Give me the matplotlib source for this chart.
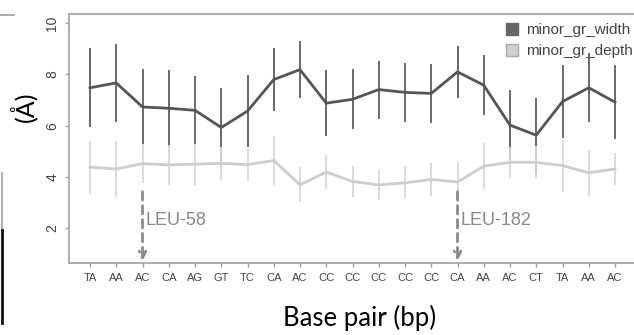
import numpy as np
import matplotlib
matplotlib.use("Agg")
import matplotlib.pyplot as plt
from matplotlib.lines import Line2D

# base pair labels along the x axis
pairs = ["TA", "AA", "AC", "CA", "AG", "GT", "TC", "CA", "AC", "CC", "CC",
         "CC", "CC", "CC", "CA", "AA", "AC", "CT", "TA", "AA", "AC"]

# minor groove width (mean, sd)
width_mean = [7.48, 7.67, 6.73, 6.68, 6.60, 5.93, 6.57, 7.80, 8.19, 6.88, 7.03,
              7.41, 7.30, 7.26, 8.10, 7.58, 6.02, 5.63, 6.94, 7.48, 6.92]
width_sd = [1.55, 1.53, 1.50, 1.50, 1.35, 1.54, 1.39, 1.23, 1.12, 1.30, 1.17,
            1.13, 1.16, 1.16, 1.02, 1.18, 1.37, 1.46, 1.43, 1.34, 1.44]

# minor groove depth (mean, sd)
depth_mean = [4.38, 4.31, 4.52, 4.47, 4.50, 4.53, 4.48, 4.64, 3.69, 4.19, 3.82,
              3.69, 3.77, 3.90, 3.80, 4.42, 4.57, 4.57, 4.44, 4.16, 4.31]
depth_sd = [1.03, 1.08, 0.75, 0.78, 0.80, 0.64, 0.65, 0.95, 0.68, 0.65, 0.60,
            0.61, 0.65, 0.65, 0.77, 0.90, 0.60, 0.63, 1.02, 0.90, 0.62]

# residue markers: (position index 1-based, label)
markers = [(3, "LEU-58"), (15, "LEU-182")]

W, H = 634, 335
fig = plt.figure(figsize=(W / 100, H / 100), dpi=100)
ax = fig.add_axes([69 / W, (H - 263) / H, (636 - 69) / W, (263 - 14) / H])

x = np.arange(1, len(pairs) + 1)

ax.errorbar(x, width_mean, yerr=width_sd, color="#555555", lw=2.0,
            ecolor="#5e5e5e", elinewidth=1.3, capsize=0, zorder=2)
ax.errorbar(x, depth_mean, yerr=depth_sd, color="#cdcdcd", lw=2.0,
            ecolor="#d8d8d8", elinewidth=1.3, capsize=0, zorder=3)

for pos, lab in markers:
    ax.annotate("", xy=(pos, 0.72), xytext=(pos, 3.42),
                arrowprops=dict(arrowstyle="->", linestyle=(0, (3, 2)),
                                color="#8a8a8a", lw=2.0, shrinkA=0, shrinkB=0,
                                mutation_scale=12), zorder=4)
    ax.text(pos + 0.12, 2.3, lab, ha="left", va="center", color="#888888",
            fontsize=13, family="Liberation Sans")

ax.set_xlim(0.2, 21.8)
ax.set_ylim(0.64, 10.36)
ax.set_xticks(x)
ax.set_xticklabels(pairs, family="Liberation Sans", fontsize=8, color="#444444")
ax.set_yticks([2, 4, 6, 8, 10])
ax.set_yticklabels(["2", "4", "6", "8", "10"], rotation=90, va="center",
                   family="Liberation Sans", fontsize=10, color="#444444")
ax.tick_params(axis="both", length=3, width=1, color="#a0a0a0", pad=4)
for s in ax.spines.values():
    s.set_color("#a8a8a8")
    s.set_linewidth(1.3)

handles = [Line2D([], [], ls="none", marker="s", ms=9, mfc="#666666", mec="#666666"),
           Line2D([], [], ls="none", marker="s", ms=9, mfc="#d0d0d0", mec="#aaaaaa")]
leg = ax.legend(handles, ["minor_gr_width", "minor_gr_depth"], loc="upper left",
                bbox_to_anchor=(503 / W, (H - 23) / H), bbox_transform=fig.transFigure,
                frameon=False, prop={"family": "Liberation Sans", "size": 11},
                handletextpad=0.3, labelspacing=0.45, handlelength=1.2,
                borderaxespad=0, borderpad=0, labelcolor="#444444")
leg.set_zorder(1)

fig.text(23 / W, 1 - 107 / H, "(Å)", rotation=90, ha="center", va="center",
         fontsize=18, family="Lato")
fig.text(360 / W, 1 - 318 / H, "Base pair (bp)", ha="center", va="center",
         fontsize=18.5, family="Lato")

# fragments of neighbouring panels at the left edge
fig.add_artist(Line2D([0, 14 / W], [1 - 15 / H, 1 - 15 / H], color="#a8a8a8", lw=1.3,
                      transform=fig.transFigure))
fig.add_artist(Line2D([2 / W, 2 / W], [1 - 173 / H, 1 - 230 / H], color="#b0b0b0", lw=1.5,
                      transform=fig.transFigure))
fig.add_artist(Line2D([1.5 / W, 1.5 / W], [1 - 230 / H, 1 - 323 / H], color="#111111", lw=2.0,
                      transform=fig.transFigure))

fig.savefig("out.png", dpi=100)
